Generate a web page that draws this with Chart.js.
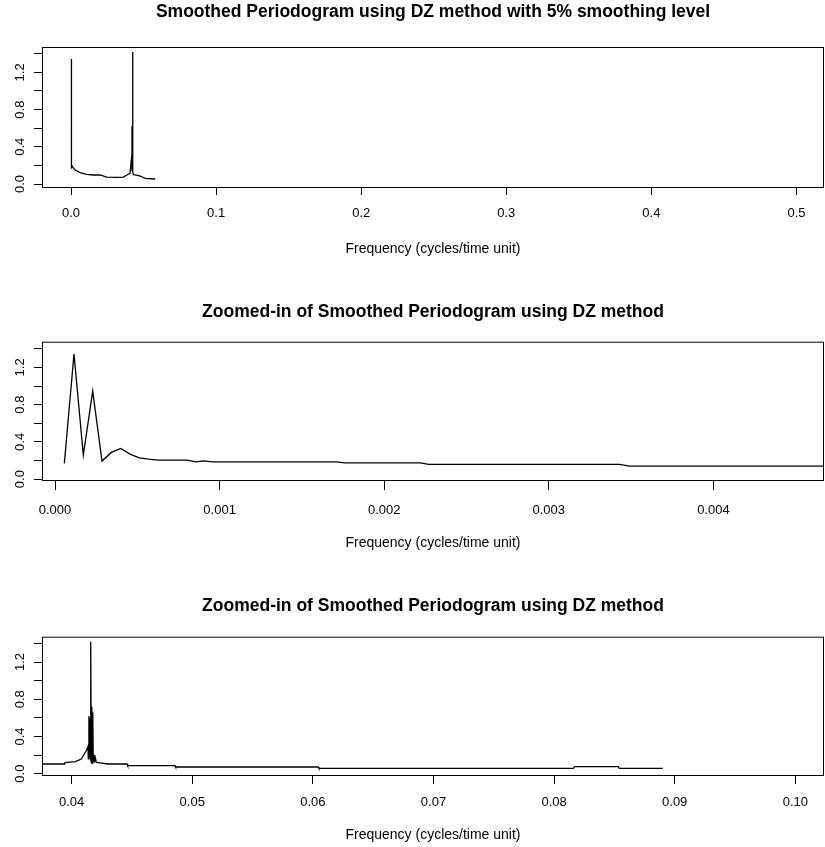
<!DOCTYPE html>
<html>
<head>
<meta charset="utf-8">
<script src="https://cdn.jsdelivr.net/npm/chart.js@4.4.0/dist/chart.umd.min.js"></script>
<style>
  html, body { margin: 0; padding: 0; background: #fff; }
  body { width: 825px; height: 847px; position: relative; overflow: hidden; }
  canvas { position: absolute; left: 0; }
</style>
</head>
<body>
<canvas id="fullChart" width="825" height="282" style="top:0px"></canvas>
<canvas id="lowChart" width="825" height="282" style="top:282px"></canvas>
<canvas id="peakChart" width="825" height="283" style="top:564px"></canvas>
<script>
// whole band (top panel)
const fullFreq = [0.00006, 0.00012, 0.00017, 0.00023, 0.00029, 0.0004, 0.0006, 0.001, 0.0028, 0.0062,
  0.0108, 0.0154, 0.0200, 0.0246, 0.0316, 0.0360, 0.0385, 0.0407, 0.0418, 0.0420,
  0.0421, 0.0424, 0.0425, 0.0427, 0.0430, 0.0442, 0.0477, 0.0511, 0.0580];
const fullSpec = [0.17, 1.344, 0.26, 0.946, 0.19, 0.33, 0.21, 0.186, 0.15, 0.122,
  0.104, 0.097, 0.097, 0.075, 0.072, 0.075, 0.097, 0.115, 0.30, 0.62,
  0.15, 1.42, 0.70, 0.13, 0.10, 0.097, 0.086, 0.061, 0.054];

// low frequencies (middle panel)
const lowFreq = [0.0000567, 0.0001154, 0.000172, 0.000229, 0.0002855, 0.000342, 0.000399, 0.000456, 0.000512, 0.000569,
  0.000626, 0.00080, 0.000857, 0.000901, 0.000958, 0.00171, 0.00176, 0.00222, 0.00227, 0.00343,
  0.00349, 0.0048];
const lowSpec = [0.169, 1.344, 0.258, 0.946, 0.194, 0.287, 0.330, 0.269, 0.229, 0.215,
  0.204, 0.204, 0.186, 0.197, 0.186, 0.186, 0.175, 0.175, 0.158, 0.158,
  0.14, 0.14];

// around the second peak (bottom panel)
const peakFreq = [0.0370, 0.0394, 0.03945, 0.0403, 0.0408, 0.04124, 0.04135, 0.04138, 0.04143, 0.04146,
  0.04150, 0.04153, 0.04156, 0.04158, 0.04160, 0.04163, 0.04167, 0.04171, 0.04175, 0.04179,
  0.04186, 0.04190, 0.04196, 0.04205, 0.0425, 0.0430, 0.0446, 0.04465, 0.04857, 0.04862,
  0.06045, 0.0605, 0.0816, 0.0817, 0.08533, 0.0854, 0.0890];
const peakSpec = [0.104, 0.104, 0.118, 0.129, 0.158, 0.255, 0.29, 0.16, 0.62, 0.18,
  0.60, 0.20, 0.50, 0.14, 1.42, 0.12, 0.72, 0.11, 0.66, 0.13,
  0.20, 0.12, 0.17, 0.12, 0.114, 0.104, 0.104, 0.086, 0.086, 0.072,
  0.072, 0.058, 0.058, 0.075, 0.075, 0.058, 0.058];

const fullXTicks = [0, 0.1, 0.2, 0.3, 0.4, 0.5];
const fullXLabels = ["0.0", "0.1", "0.2", "0.3", "0.4", "0.5"];
const lowXTicks = [0, 0.001, 0.002, 0.003, 0.004];
const lowXLabels = ["0.000", "0.001", "0.002", "0.003", "0.004"];
const peakXTicks = [0.04, 0.05, 0.06, 0.07, 0.08, 0.09, 0.10];
const peakXLabels = ["0.04", "0.05", "0.06", "0.07", "0.08", "0.09", "0.10"];
const yTicks = [0, 0.2, 0.4, 0.6, 0.8, 1.0, 1.2, 1.4];
const yLabels = ["0.0", "", "0.4", "", "0.8", "", "1.2", ""];

const FONT = "'Liberation Sans', Arial, Helvetica, sans-serif";
const X_TITLE = "Frequency (cycles/time unit)";

// R style box + rotated y labels
const boxPlugin = {
  id: "boxPlugin",
  afterDraw(chart) {
    const { ctx, chartArea: a } = chart;
    const ys = chart.scales.y;
    ctx.save();
    ctx.strokeStyle = "#000";
    ctx.lineWidth = 1;
    ctx.strokeRect(a.left + 0.5, a.top + 0.5, a.right - a.left - 1, a.bottom - a.top - 1);
    ctx.fillStyle = "#000";
    ctx.font = "13px " + FONT;
    ctx.textAlign = "center";
    ctx.textBaseline = "middle";
    ys.ticks.forEach((t, i) => {
      if (!yLabels[i]) return;
      ctx.save();
      ctx.translate(20, ys.getPixelForValue(t.value));
      ctx.rotate(-Math.PI / 2);
      ctx.fillText(yLabels[i], 0, 0);
      ctx.restore();
    });
    ctx.restore();
  }
};

function makePanel(canvasId, p) {
  return new Chart(document.getElementById(canvasId), {
    type: "line",
    data: {
      datasets: [{
        data: p.freq.map((f, i) => ({ x: f, y: p.spec[i] })),
        borderColor: "#000",
        borderWidth: 1.3,
        pointRadius: 0,
        tension: 0,
        fill: false
      }]
    },
    options: {
      responsive: false,
      animation: false,
      events: [],
      layout: { padding: { left: 0, right: 1, top: 0, bottom: 0 } },
      plugins: {
        legend: { display: false },
        tooltip: { enabled: false },
        title: {
          display: true,
          text: p.title,
          fullSize: false,
          color: "#000",
          font: { family: FONT, size: 17.5, weight: "bold" },
          padding: p.titlePad
        }
      },
      scales: {
        x: {
          type: "linear",
          min: p.xMin,
          max: p.xMax,
          afterBuildTicks: (s) => { s.ticks = p.xTicks.map((v) => ({ value: v })); },
          afterFit: (s) => { s.height = p.xHeight; },
          ticks: {
            callback: (v, i) => p.xLabels[i],
            color: "#000",
            font: { family: FONT, size: 13 },
            padding: p.tickPad,
            maxRotation: 0,
            autoSkip: false
          },
          grid: { drawOnChartArea: false, color: "#000", tickLength: p.tickLen },
          border: { display: false },
          title: {
            display: true,
            text: X_TITLE,
            color: "#000",
            font: { family: FONT, size: 14 },
            padding: { top: 0, bottom: p.xTitlePad }
          }
        },
        y: {
          type: "linear",
          min: p.yMin,
          max: p.yMax,
          afterBuildTicks: (s) => { s.ticks = yTicks.map((v) => ({ value: v })); },
          afterFit: (s) => { s.width = 42; },
          ticks: { display: false },
          grid: { drawOnChartArea: false, color: "#000", tickLength: 8 },
          border: { display: false }
        }
      }
    },
    plugins: [boxPlugin]
  });
}

makePanel("fullChart", {
  title: "Smoothed Periodogram using DZ method with 5% smoothing level",
  freq: fullFreq, spec: fullSpec,
  xMin: -0.02, xMax: 0.519, yMin: -0.043, yMax: 1.473,
  xTicks: fullXTicks, xLabels: fullXLabels,
  titlePad: { top: 2, bottom: 24 },
  xHeight: 94, tickLen: 7, tickPad: 11, xTitlePad: 24.6
});

makePanel("lowChart", {
  title: "Zoomed-in of Smoothed Periodogram using DZ method",
  freq: lowFreq, spec: lowSpec,
  xMin: -0.000079, xMax: 0.004672, yMin: -0.02, yMax: 1.476,
  xTicks: lowXTicks, xLabels: lowXLabels,
  titlePad: { top: 19.7, bottom: 19 },
  xHeight: 83, tickLen: 9, tickPad: 12.5, xTitlePad: 12.6
});

makePanel("peakChart", {
  title: "Zoomed-in of Smoothed Periodogram using DZ method",
  freq: peakFreq, spec: peakSpec,
  xMin: 0.03754, xMax: 0.10238, yMin: -0.025, yMax: 1.473,
  xTicks: peakXTicks, xLabels: peakXLabels,
  titlePad: { top: 31.8, bottom: 19.9 },
  xHeight: 71, tickLen: 8, tickPad: 10.9, xTitlePad: 3.6
});
</script>
</body>
</html>
